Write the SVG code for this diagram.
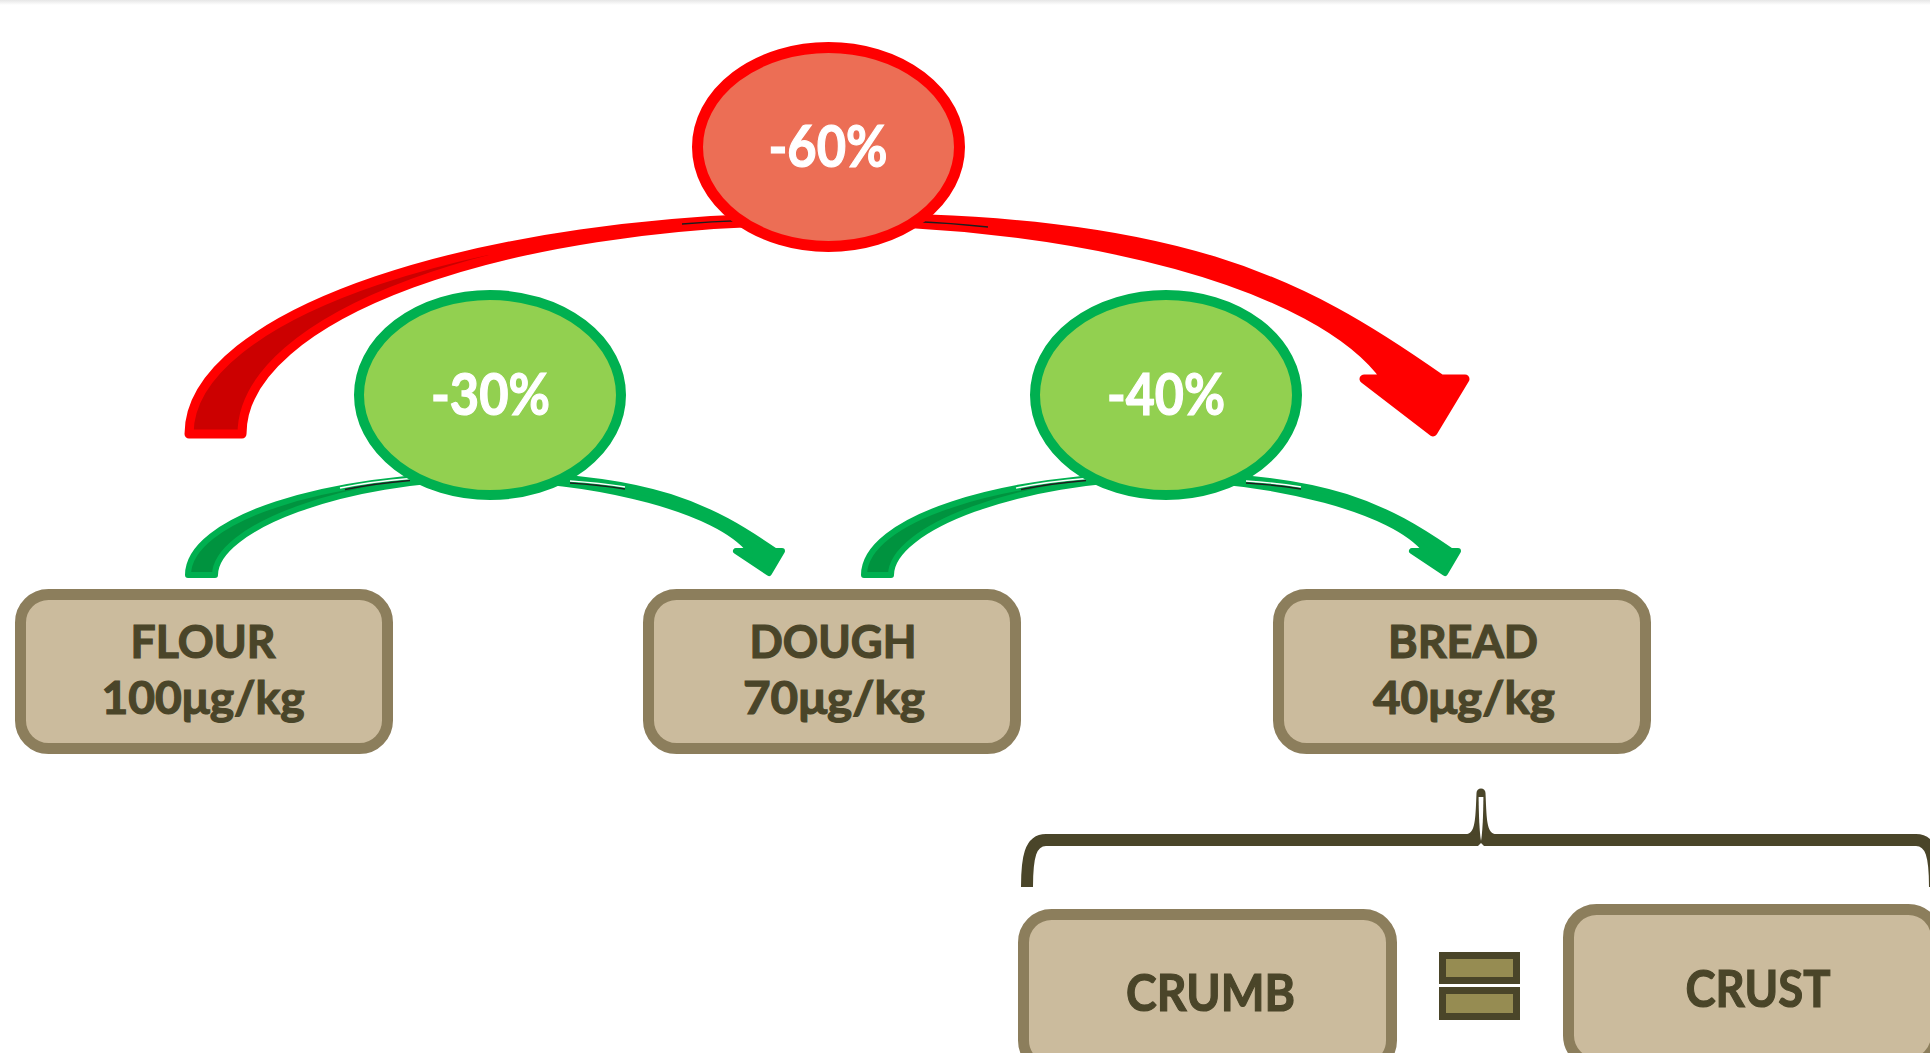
<svg xmlns="http://www.w3.org/2000/svg" width="1930" height="1053" viewBox="0 0 1930 1053">
<defs>
<style>
.box{fill:#cbbb9d;stroke:#8c7e5c;stroke-width:11}
.lbl{font-family:Lato,"Open Sans","Liberation Sans",sans-serif;font-weight:700;fill:#4a4529;stroke:#4a4529;stroke-width:1.2;text-anchor:middle}
.pct{font-family:Lato,"Open Sans","Liberation Sans",sans-serif;font-weight:700;fill:#ffffff;stroke:#ffffff;stroke-width:1.2;text-anchor:middle;font-size:57px}
.redE{fill:#ec6e55;stroke:#ff0000;stroke-width:11}
.grnE{fill:#92d050;stroke:#00b050;stroke-width:10}
.eq{fill:#968c52;stroke:#4a4529;stroke-width:7}
.art{fill:none;stroke:#1e1e1e;stroke-width:1.3}
.artw{fill:none;stroke:#ffffff;stroke-width:1.3}
</style>
<linearGradient id="topShade" x1="0" y1="0" x2="0" y2="1">
  <stop offset="0" stop-color="#e6e6e6"/>
  <stop offset="1" stop-color="#ffffff"/>
</linearGradient>
<path id="redBand" d="M189 434 C189 314.2 476 217 830 217 C1180 217 1300 280 1441 379 L1465 379 L1433 432 L1364 379 L1386 379 C1320 285 1080 221 822 221 C501.7 221 242 316.4 242 434 Z"/>
<path id="redDark" d="M189 434 C189 314.2 476 217 830 217 L822 221 C501.7 221 242 316.4 242 434 Z"/>
<path id="grnBand" d="M188 575 C188 519.8 323.2 475 490 475 C653 475 712 508 775 551 L782 551 L769 573 L736 551 L750 551 C718 510 600 480 486.3 478.3 C345 478.3 215 528 215 575 Z"/>
<path id="grnDark" d="M188 575 C188 519.8 323.2 475 490 475 L486.3 478.3 C345 478.3 215 528 215 575 Z"/>
</defs>
<rect width="1930" height="1053" fill="#ffffff"/>
<rect width="1930" height="5" fill="url(#topShade)"/>

<g id="connectors">
  <g id="arrow-60">
    <use href="#redBand" fill="#ff0000"/>
    <use href="#redDark" fill="#cc0000"/>
    <use href="#redBand" fill="none" stroke="#ff0000" stroke-width="9" stroke-linejoin="round"/>
    <path class="art" d="M682 224 Q712 221.5 742 220.5"/>
    <path class="art" d="M915 221.5 Q950 223 988 227"/>
  </g>
  <g id="arrow-30">
    <use href="#grnBand" fill="#00b050"/>
    <use href="#grnDark" fill="#00933f"/>
    <use href="#grnBand" fill="none" stroke="#00b050" stroke-width="6" stroke-linejoin="round"/>
    <path class="artw" d="M340 488 Q372 481.5 410 478.5"/>
    <path class="art" d="M345 489.5 Q375 483.5 410 480.5"/>
    <path class="artw" d="M570 481 Q600 483 625 487"/>
    <path class="art" d="M570 483 Q600 485 625 489"/>
  </g>
  <g id="arrow-40" transform="translate(676 0)">
    <use href="#grnBand" fill="#00b050"/>
    <use href="#grnDark" fill="#00933f"/>
    <use href="#grnBand" fill="none" stroke="#00b050" stroke-width="6" stroke-linejoin="round"/>
    <path class="artw" d="M340 488 Q372 481.5 410 478.5"/>
    <path class="art" d="M345 489.5 Q375 483.5 410 480.5"/>
    <path class="artw" d="M570 481 Q600 483 625 487"/>
    <path class="art" d="M570 483 Q600 485 625 489"/>
  </g>
  <g id="brace">
    <path d="M1027 887 C1027 858 1030 840 1046 840 L1916 840 C1932 840 1935 858 1935 887" fill="none" stroke="#4a4529" stroke-width="12"/>
    <path d="M1464 834.5 C1474 834.5 1475 825 1476 805 L1476.5 793 A4.5 4.5 0 0 1 1485.5 793 L1486 805 C1487 825 1488 834.5 1498 834.5 Z" fill="#4a4529"/>
    <path d="M1478.6 797 L1483.4 797 C1483.2 815 1482.6 832 1481 841 C1479.4 832 1478.8 815 1478.6 797 Z" fill="#ffffff"/>
    <path d="M1477.5 846.5 L1481 843 L1484.5 846.5 Z" fill="#ffffff"/>
  </g>
</g>

<g id="node-60">
  <ellipse class="redE" cx="828.5" cy="147" rx="131" ry="99.5"/>
  <text class="pct" x="828" y="167" textLength="119" lengthAdjust="spacingAndGlyphs">-60%</text>
</g>
<g id="node-30">
  <ellipse class="grnE" cx="490" cy="395" rx="131" ry="100"/>
  <text class="pct" x="490.5" y="415" textLength="119" lengthAdjust="spacingAndGlyphs">-30%</text>
</g>
<g id="node-40">
  <ellipse class="grnE" cx="1166" cy="395" rx="131" ry="100"/>
  <text class="pct" x="1166" y="415" textLength="118" lengthAdjust="spacingAndGlyphs">-40%</text>
</g>

<g id="node-flour">
  <rect class="box" x="20.5" y="594.5" width="367" height="154" rx="28"/>
  <text class="lbl" x="203" y="658" font-size="46" textLength="145" lengthAdjust="spacingAndGlyphs">FLOUR</text>
  <text class="lbl" x="203" y="714" font-size="46" textLength="203" lengthAdjust="spacingAndGlyphs">100μg/kg</text>
</g>
<g id="node-dough">
  <rect class="box" x="648.5" y="594.5" width="367" height="154" rx="28"/>
  <text class="lbl" x="833" y="658" font-size="46" textLength="167" lengthAdjust="spacingAndGlyphs">DOUGH</text>
  <text class="lbl" x="834" y="714" font-size="46" textLength="182" lengthAdjust="spacingAndGlyphs">70μg/kg</text>
</g>
<g id="node-bread">
  <rect class="box" x="1278.5" y="594.5" width="367" height="154" rx="28"/>
  <text class="lbl" x="1463" y="658" font-size="46" textLength="150" lengthAdjust="spacingAndGlyphs">BREAD</text>
  <text class="lbl" x="1464" y="714" font-size="46" textLength="182" lengthAdjust="spacingAndGlyphs">40μg/kg</text>
</g>
<g id="node-crumb">
  <rect class="box" x="1023.5" y="914.5" width="368" height="154" rx="28"/>
  <text class="lbl" x="1210.5" y="1011" font-size="52" textLength="169" lengthAdjust="spacingAndGlyphs">CRUMB</text>
</g>
<g id="node-equals">
  <rect class="eq" x="1442.5" y="955.5" width="74" height="25"/>
  <rect class="eq" x="1442.5" y="990.5" width="74" height="26"/>
</g>
<g id="node-crust">
  <rect class="box" x="1568.5" y="909.5" width="368" height="154" rx="28"/>
  <text class="lbl" x="1758" y="1007" font-size="52" textLength="145" lengthAdjust="spacingAndGlyphs">CRUST</text>
</g>
</svg>
